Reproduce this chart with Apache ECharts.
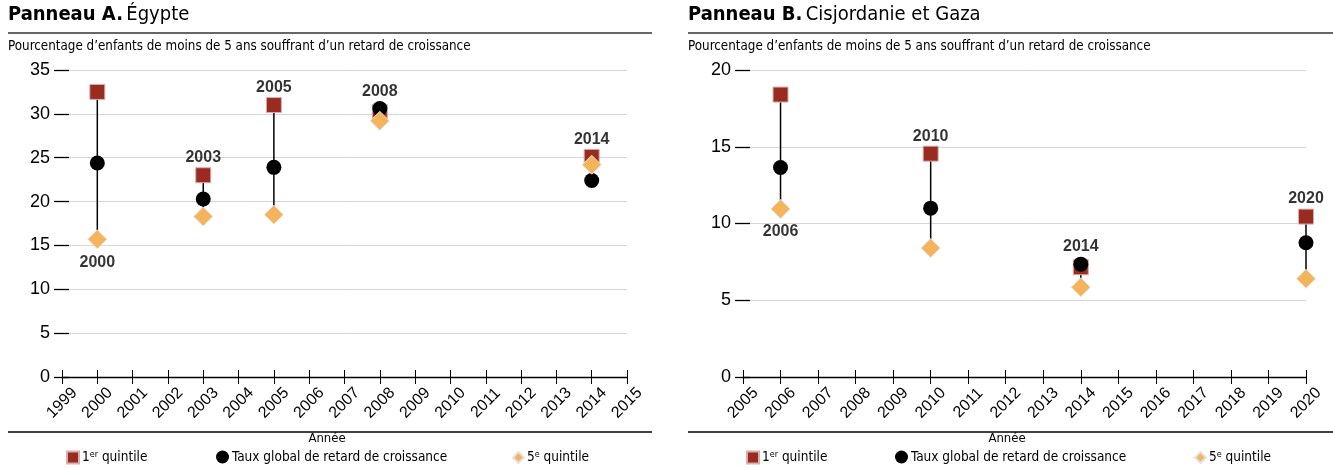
<!DOCTYPE html>
<html>
<head>
<meta charset="utf-8">
<script src="https://cdn.jsdelivr.net/npm/echarts@6/dist/echarts.min.js"></script>
<style>
  html, body { margin: 0; padding: 0; background: #fff; }
  #chart { width: 1333px; height: 468px; }
</style>
</head>
<body>
<div id="chart"></div>
<script>
// Panneau A. Égypte
var yearsA = [2000, 2003, 2005, 2008, 2014];
var q1A = [32.5, 23.0, 31.0, 30.2, 25.1];
var totalA = [24.4, 20.3, 23.9, 30.6, 22.4];
var q5A = [15.7, 18.3, 18.5, 29.2, 24.2];
var labelBelowA = [2000];

// Panneau B. Cisjordanie et Gaza
var yearsB = [2006, 2010, 2014, 2020];
var q1B = [18.4, 14.55, 7.15, 10.45];
var totalB = [13.65, 11.0, 7.35, 8.75];
var q5B = [10.95, 8.4, 5.85, 6.4];
var labelBelowB = [2006];

var yTicksA = { min: 0, max: 35, interval: 5 };
var yTicksB = { min: 0, max: 20, interval: 5 };
var xRangeA = { min: 1999, max: 2015 };
var xRangeB = { min: 2005, max: 2020 };

var seriesNames = ['1er quintile', 'Taux global de retard de croissance', '5e quintile'];

var RED = '#9a2b21';
var ORANGE = '#f5b45a';
var NARROW = '"Liberation Sans Narrow", "DejaVu Sans Condensed", sans-serif';
var ARIAL = 'Arial, "Liberation Sans", sans-serif';

var myChart = echarts.init(document.getElementById('chart'));

function zip(xs, ys) {
    var out = [];
    for (var i = 0; i < xs.length; i++) {
        out.push([xs[i], ys[i]]);
    }
    return out;
}

function panelSeries(idx, years, q1, tot, q5, below) {
    var ranges = [];
    var labelsTop = [];
    var labelsBottom = [];
    for (var i = 0; i < years.length; i++) {
        var lo = Math.min(q1[i], tot[i], q5[i]);
        var hi = Math.max(q1[i], tot[i], q5[i]);
        ranges.push([years[i], lo, hi]);
        if (below.indexOf(years[i]) >= 0) {
            labelsBottom.push([years[i], lo]);
        } else {
            labelsTop.push([years[i], hi]);
        }
    }
    var labelStyle = {
        show: true,
        formatter: function (p) { return String(p.value[0]); },
        fontFamily: ARIAL,
        fontWeight: 'bold',
        fontSize: 16,
        color: '#000'
    };
    return [
        {
            type: 'custom',
            xAxisIndex: idx,
            yAxisIndex: idx,
            silent: true,
            renderItem: function (params, api) {
                var a = api.coord([api.value(0), api.value(1)]);
                var b = api.coord([api.value(0), api.value(2)]);
                return {
                    type: 'line',
                    shape: { x1: a[0], y1: a[1], x2: b[0], y2: b[1] },
                    style: { stroke: '#000', lineWidth: 1.5 }
                };
            },
            data: ranges,
            z: 1
        },
        {
            name: seriesNames[0],
            type: 'scatter',
            xAxisIndex: idx,
            yAxisIndex: idx,
            symbol: 'rect',
            symbolSize: 15,
            itemStyle: { color: RED, borderColor: '#d8b0aa', borderWidth: 1, opacity: 1 },
            data: zip(years, q1),
            z: 2
        },
        {
            name: seriesNames[1],
            type: 'scatter',
            xAxisIndex: idx,
            yAxisIndex: idx,
            symbol: 'circle',
            symbolSize: 15,
            itemStyle: { color: '#000', opacity: 1 },
            data: zip(years, tot),
            z: 3
        },
        {
            name: seriesNames[2],
            type: 'scatter',
            xAxisIndex: idx,
            yAxisIndex: idx,
            symbol: 'diamond',
            symbolSize: 19,
            itemStyle: { color: ORANGE, borderColor: '#e2e2e2', borderWidth: 1, opacity: 1 },
            data: zip(years, q5),
            z: 4
        },
        {
            type: 'scatter',
            xAxisIndex: idx,
            yAxisIndex: idx,
            silent: true,
            symbolSize: 15,
            itemStyle: { color: 'rgba(0,0,0,0)' },
            label: Object.assign({ position: 'top', distance: 2 }, labelStyle),
            data: labelsTop,
            z: 5
        },
        {
            type: 'scatter',
            xAxisIndex: idx,
            yAxisIndex: idx,
            silent: true,
            symbolSize: 18,
            itemStyle: { color: 'rgba(0,0,0,0)' },
            label: Object.assign({ position: 'bottom', distance: 6 }, labelStyle),
            data: labelsBottom,
            z: 5
        }
    ];
}

function xAxisMain(grid, range) {
    return {
        type: 'value',
        gridIndex: grid,
        min: range.min,
        max: range.max,
        interval: 1,
        axisLine: { show: true, lineStyle: { color: '#000', width: 1.3 } },
        axisTick: { show: true, length: 7, lineStyle: { color: '#000', width: 1 } },
        axisLabel: {
            rotate: 45,
            align: 'center',
            verticalAlign: 'middle',
            fontFamily: ARIAL,
            fontSize: 16,
            color: '#000',
            margin: 26,
            formatter: function (v) { return String(v); }
        },
        splitLine: { show: false }
    };
}

function xAxisInner(grid, range) {
    return {
        type: 'value',
        gridIndex: grid,
        position: 'bottom',
        min: range.min,
        max: range.max,
        interval: 1,
        axisLine: { show: false },
        axisTick: { show: true, inside: true, length: 7, lineStyle: { color: '#000', width: 1 } },
        axisLabel: { show: false },
        splitLine: { show: false }
    };
}

function yAxisMain(grid, t) {
    return {
        type: 'value',
        gridIndex: grid,
        min: t.min,
        max: t.max,
        interval: t.interval,
        axisLine: { show: false },
        axisTick: { show: true, length: 8, lineStyle: { color: '#000', width: 1.3 } },
        axisLabel: { fontFamily: ARIAL, fontSize: 18, color: '#000', margin: 12 },
        splitLine: { show: true, lineStyle: { color: '#d6d6d6', width: 1 } }
    };
}

function yAxisInner(grid, t) {
    return {
        type: 'value',
        gridIndex: grid,
        position: 'left',
        min: t.min,
        max: t.max,
        interval: t.interval,
        axisLine: { show: false },
        axisTick: { show: true, inside: true, length: 7, lineStyle: { color: '#000', width: 1.3 } },
        axisLabel: { show: false },
        splitLine: { show: false }
    };
}

function legendItem(name, icon, left, size) {
    return {
        data: [{ name: name, icon: icon }],
        left: left,
        top: 450,
        itemWidth: size,
        itemHeight: size,
        itemGap: 4,
        padding: 0,
        selectedMode: false,
        formatter: function (n) {
            if (n === seriesNames[0]) return '1{sup|er} quintile';
            if (n === seriesNames[2]) return '5{sup|e} quintile';
            return n;
        },
        textStyle: {
            fontFamily: NARROW,
            fontSize: 13.5,
            color: '#000',
            padding: [0, 0, 0, -2],
            rich: {
                sup: { fontFamily: NARROW, fontSize: 9, verticalAlign: 'top', padding: [0, 0, 6, 0], color: '#000' }
            }
        }
    };
}

function panelGraphics(x0, x1, titleBold, titleRest, anneeX) {
    return [
        {
            type: 'text',
            left: x0,
            top: 5,
            style: {
                text: '{b|' + titleBold + '} {r|' + titleRest + '}',
                rich: {
                    b: { fontFamily: NARROW, fontWeight: 'bold', fontSize: 20, fill: '#000' },
                    r: { fontFamily: NARROW, fontSize: 20, fill: '#000' }
                }
            }
        },
        {
            type: 'line',
            shape: { x1: x0, y1: 33, x2: x1, y2: 33 },
            style: { stroke: '#333', lineWidth: 1.5 }
        },
        {
            type: 'text',
            left: x0,
            top: 40,
            style: {
                text: 'Pourcentage d\u2019enfants de moins de 5 ans souffrant d\u2019un retard de croissance',
                fontFamily: NARROW,
                fontSize: 13.3,
                fill: '#000'
            }
        },
        {
            type: 'line',
            shape: { x1: x0, y1: 432, x2: x1, y2: 432 },
            style: { stroke: '#000', lineWidth: 1.5 }
        },
        {
            type: 'text',
            x: anneeX,
            y: 432,
            style: {
                text: 'Année',
                fontFamily: NARROW,
                fontSize: 13,
                fill: '#000',
                align: 'center',
                verticalAlign: 'top'
            }
        }
    ];
}

var option = {
    animation: false,
    backgroundColor: '#fff',
    grid: [
        { left: 62, right: 706, top: 70, bottom: 91 },
        { left: 743, right: 27, top: 70, bottom: 91 }
    ],
    xAxis: [
        xAxisMain(0, xRangeA),
        xAxisMain(1, xRangeB),
        xAxisInner(0, xRangeA),
        xAxisInner(1, xRangeB)
    ],
    yAxis: [
        yAxisMain(0, yTicksA),
        yAxisMain(1, yTicksB),
        yAxisInner(0, yTicksA),
        yAxisInner(1, yTicksB)
    ],
    legend: [
        legendItem(seriesNames[0], 'rect', 66, 12),
        legendItem(seriesNames[1], 'circle', 216, 13),
        legendItem(seriesNames[2], 'diamond', 512, 11),
        legendItem(seriesNames[0], 'rect', 746, 12),
        legendItem(seriesNames[1], 'circle', 895, 13),
        legendItem(seriesNames[2], 'diamond', 1194, 11)
    ],
    graphic: panelGraphics(8, 652, 'Panneau A.', 'Égypte', 327)
        .concat(panelGraphics(688, 1333, 'Panneau B.', 'Cisjordanie et Gaza', 1007)),
    series: panelSeries(0, yearsA, q1A, totalA, q5A, labelBelowA)
        .concat(panelSeries(1, yearsB, q1B, totalB, q5B, labelBelowB))
};

myChart.setOption(option);

window.onresize = function () {
    myChart.resize();
};
</script>
</body>
</html>
